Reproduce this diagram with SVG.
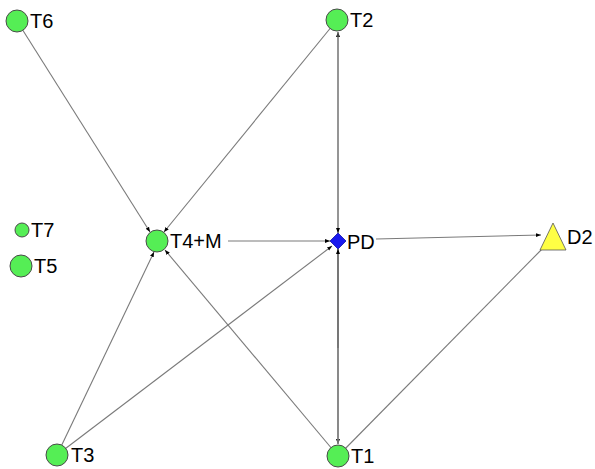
<svg xmlns="http://www.w3.org/2000/svg" width="595" height="469" viewBox="0 0 595 469">
<style>
.e{stroke:#7a7a7a;stroke-width:1.1;fill:none}
.n{fill:#55ee55;stroke:#4a4a4a;stroke-width:1}
text{font-family:"Liberation Sans",Arial,sans-serif;font-size:20px;fill:#000}
</style>
<defs>
<marker id="a" viewBox="0 0 10 10" refX="10" refY="5" markerWidth="5" markerHeight="5" orient="auto" markerUnits="userSpaceOnUse">
<path d="M0,1 L10,5 L0,9 z" fill="#000"/>
</marker>
</defs>
<rect width="595" height="469" fill="#fff"/>
<g id="connectors">
<line class="e" x1="17" y1="21" x2="150" y2="232" marker-end="url(#a)"/>
<line class="e" x1="337" y1="20" x2="164" y2="232" marker-end="url(#a)"/>
<line class="e" x1="57" y1="455" x2="154" y2="252" marker-end="url(#a)"/>
<line class="e" x1="338" y1="456" x2="165" y2="250" marker-end="url(#a)"/>
<line class="e" x1="228" y1="241" x2="330" y2="241" marker-end="url(#a)"/>
<line class="e" x1="338" y1="233" x2="338" y2="32" marker-end="url(#a)"/>
<line class="e" x1="338" y1="32" x2="338" y2="233" marker-end="url(#a)"/>
<line class="e" x1="338" y1="249" x2="338" y2="444" marker-end="url(#a)"/>
<line x1="338" y1="444" x2="338" y2="249" stroke="#555" stroke-width="1.3" marker-end="url(#a)"/>
<line x1="338" y1="348" x2="338" y2="444" stroke="#9a9a9a" stroke-width="1.1"/>
<line class="e" x1="57" y1="455" x2="332" y2="246" marker-end="url(#a)"/>
<line class="e" x1="376" y1="239" x2="541" y2="235" marker-end="url(#a)"/>
<line class="e" x1="338" y1="456" x2="546" y2="245"/>
</g>
<g id="T6"><circle class="n" cx="17" cy="21" r="11"/><text x="30" y="28">T6</text></g>
<g id="T2"><circle class="n" cx="337" cy="20" r="11"/><text x="350" y="27">T2</text></g>
<g id="T7"><circle class="n" cx="22" cy="230" r="7"/><text x="31" y="237">T7</text></g>
<g id="T5"><circle class="n" cx="21" cy="266" r="11"/><text x="34" y="273">T5</text></g>
<g id="T4M"><circle class="n" cx="157" cy="241" r="11"/><text x="170" y="248">T4+M</text></g>
<g id="PD"><polygon points="338,233 346,241 338,249 330,241" fill="#1a1aee" stroke="#1010aa" stroke-width="0.8"/><text x="347" y="249">PD</text></g>
<g id="D2"><polygon points="553,223 566,250 540,250" fill="#ffff44" stroke="#555" stroke-width="0.8"/><text x="567" y="244">D2</text></g>
<g id="T3"><circle class="n" cx="57" cy="455" r="11"/><text x="71" y="462">T3</text></g>
<g id="T1"><circle class="n" cx="338" cy="456" r="11"/><text x="351" y="463">T1</text></g>
</svg>
